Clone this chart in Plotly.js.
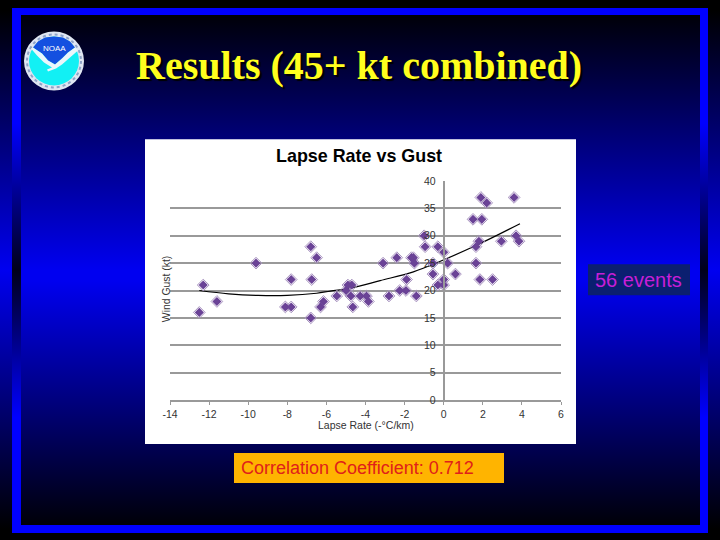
<!DOCTYPE html>
<html><head><meta charset="utf-8">
<script src="https://cdn.plot.ly/plotly-3.0.0.min.js"></script>
<style>html,body{margin:0;padding:0;width:720px;height:540px;overflow:hidden;
background:linear-gradient(180deg,#000 0%,#000 2%,#0000f0 50%,#000 98%,#000 100%);}
#frame{position:absolute;left:12px;top:8px;width:696px;height:525px;
background:linear-gradient(180deg,#0000ff 0%,#0000ff 22%,#00001a 50%,#0000ff 78%,#0000ff 100%);}
#inner{position:absolute;left:21px;top:15px;width:679px;height:510px;
background:linear-gradient(180deg,#000008 0%,#0000f0 50%,#0000f0 52%,#000008 100%);}
#c{position:absolute;left:0;top:0;width:720px;height:540px}</style></head><body>
<div id="frame"></div><div id="inner"></div><div id="c"></div>
<script>
const lapseRate=[-12.5,-12.3,-11.6,-9.6,-8.1,-7.8,-7.8,-6.8,-6.5,-6.75,-6.8,-6.3,-6.15,-5.47,-5,-4.9,-4.7,-4.75,-4.65,-4.27,-3.95,-3.85,-2.8,-3.1,-2.4,-2.25,-1.93,-1.9,-1.65,-1.55,-1.5,-1.4,-1,-0.95,-0.55,-0.55,-0.3,-0.3,0,0,0,0.2,0.6,1.5,1.95,1.9,2.2,1.8,1.65,1.65,1.85,2.5,2.95,3.6,3.7,3.85];
const windGust=[16,21,18,25,17,17,22,28,26,22,15,17,18,19,20,21,21,19,17,19,19,18,19,25,26,20,20,22,26,26,25,19,30,28,25,23,28,21,27,22,21,25,23,33,33,37,36,29,28,25,22,22,29,37,30,29];
const trendX=[-12.5,-11,-9.5,-8,-6.5,-5.8,-4.65,-3.25,-1.55,-0.2,1.7,3.9];
const trendY=[20,19.4,19.1,19.1,19.5,19.9,20.5,21.8,23.4,25.3,28.3,32.2];
const xTicks=[-14,-12,-10,-8,-6,-4,-2,0,2,4,6];
const yTicks=[0,5,10,15,20,25,30,35,40];

const W=720,H=540,L=170,R=561,T=180.7,B=400;
const px=x=>(x-L)/(R-L), py=y=>(B-y)/(B-T);
const rect=(x0,y0,x1,y1,fill,line)=>({type:'rect',xref:'paper',yref:'paper',layer:'below',
  x0:px(x0),x1:px(x1),y0:py(y1),y1:py(y0),fillcolor:fill,line:line||{width:0}});
const circ=(x0,y0,x1,y1,fill,line)=>Object.assign(rect(x0,y0,x1,y1,fill,line),{type:'circle'});
const pathPx=(pts,fill)=>({type:'path',xref:'paper',yref:'paper',layer:'below',fillcolor:fill,line:{width:0},
  path:pts.map((p,i)=>(i?'L':'M')+px(p[0])+' '+py(p[1])).join(' ')+' Z'});
const note=(text,x,y,font,extra)=>Object.assign({text,x:px(x),y:py(y),xref:'paper',yref:'paper',showarrow:false,font,xanchor:'center',yanchor:'middle'},extra||{});

const shapes=[
  rect(145,139,576,444,'#ffffff'),
  rect(234,453,504,483,'#ffb400'),
  rect(588,264,690,295,'#0b1f70'),
  circ(24,31,84,90,'#dfe6f2'),
  circ(27,34,81,87,'rgba(0,0,0,0)',{color:'#8fa3c8',width:2,dash:'dot'}),
  circ(29,36,79,85,'#12f0f4'),
  pathPx([[33,47],[38,41],[45,37],[54,36],[63,37],[70,41],[75,47],[68,52],[62,58],[55,64],[48,60],[42,53]],'#1450e0'),
  pathPx([[31,48],[33,47],[42,53],[48,60],[55,64],[62,58],[68,52],[75,47],[78,50],[70,57],[62,64],[56,68],[48,71],[47,69],[52,67],[44,62],[37,55]],'#eaf6fb')
];
const F='"Liberation Sans",Arial,sans-serif';
const annotations=[
  note('<b>Results (45+ kt combined)</b>',359,65,{family:'"Liberation Serif",serif',size:40,color:'#ffff1e',shadow:'2px 2px 1px #000'}),
  note('<b>Lapse Rate vs Gust</b>',359,156,{family:F,size:17.9,color:'#000'}),
  note('Lapse Rate (-°C/km)',366,425,{family:F,size:10.5,color:'#333'}),
  note('Wind Gust (kt)',166,289,{family:F,size:10.4,color:'#333'},{textangle:-90}),
  note('Correlation Coefficient: 0.712',357.5,468,{family:F,size:18,color:'#e0201a'}),
  note('56 events',638.5,280,{family:F,size:20,color:'#c81ed8'}),
  note('NOAA',54,48,{family:F,size:8,color:'#fff'})
];

const traces=[
  {type:'scatter',mode:'lines',x:trendX,y:trendY,line:{color:'#000',width:1.2,shape:'spline'},hoverinfo:'skip'},
  {type:'scatter',mode:'markers',x:lapseRate,y:windGust,
   marker:{symbol:'diamond-open',size:9,color:'#a893c0',line:{color:'#a893c0',width:1}}},
  {type:'scatter',mode:'markers',x:lapseRate,y:windGust,
   marker:{symbol:'diamond',size:7,color:'#6a4296',line:{width:0}}}
];
const layout={width:W,height:H,showlegend:false,paper_bgcolor:'rgba(0,0,0,0)',plot_bgcolor:'rgba(0,0,0,0)',
  margin:{l:L,r:W-R,t:T,b:H-B,pad:0},shapes,annotations,
  xaxis:{range:[-14,6],tickvals:xTicks,ticktext:xTicks.map(String),showgrid:false,zeroline:false,showline:true,linecolor:'#999',linewidth:2,
    ticks:'outside',ticklen:3,tickcolor:'#999',tickwidth:1,tickfont:{family:F,size:10.5,color:'#333'}},
  yaxis:{range:[0,40],tickvals:yTicks,ticktext:yTicks.map(String),anchor:'free',position:0.7,showgrid:true,gridcolor:'#999',gridwidth:2,zeroline:false,
    showline:true,linecolor:'#999',linewidth:2,ticks:'',ticklabelstandoff:5,tickfont:{family:F,size:10.5,color:'#333'}}
};
Plotly.newPlot('c',traces,layout,{displayModeBar:false,staticPlot:true});
</script></body></html>
